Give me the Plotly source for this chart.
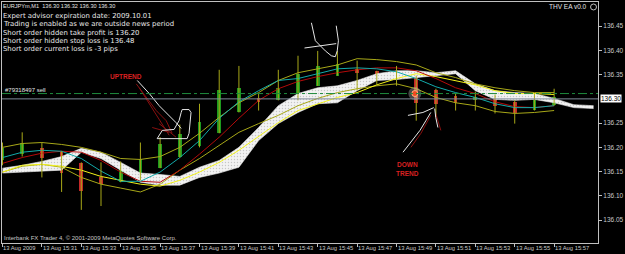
import plotly.graph_objects as go

# ---------------- data ----------------
bar_index = list(range(29))          # one bar per minute, 15:29 ... 15:57
bar_open  = [136.173,136.186,136.198,136.190,136.167,136.138,136.128,136.145,136.157,136.181,
             136.202,136.229,136.272,136.301,136.297,136.307,136.327,136.348,136.362,136.358,
             136.350,136.346,136.319,136.307,136.299,136.303,136.294,136.278,136.288]
bar_high  = [136.210,136.231,136.210,136.192,136.169,136.169,136.171,136.210,136.221,136.247,
             136.290,136.360,136.368,136.311,136.360,136.389,136.399,136.399,136.379,136.358,
             136.368,136.348,136.321,136.311,136.315,136.309,136.297,136.311,136.321]
bar_low   = [136.163,136.181,136.138,136.108,136.071,136.079,136.128,136.132,136.157,136.179,
             136.200,136.229,136.272,136.276,136.297,136.297,136.327,136.348,136.317,136.327,
             136.327,136.255,136.262,136.276,136.276,136.270,136.249,136.276,136.286]
bar_close = [136.198,136.210,136.179,136.147,136.110,136.124,136.157,136.175,136.206,136.227,
             136.253,136.319,136.323,136.294,136.323,136.352,136.368,136.373,136.354,136.340,
             136.342,136.292,136.290,136.292,136.303,136.286,136.270,136.297,136.304]

env_upper = [136.200,136.208,136.210,136.206,136.200,136.190,136.177,136.175,136.181,136.200,
             136.229,136.262,136.292,136.313,136.338,136.354,136.362,136.370,136.383,136.381,
             136.377,136.370,136.354,136.344,136.331,136.323,136.317,136.313,136.313]
env_lower = [136.149,136.161,136.165,136.159,136.138,136.124,136.116,136.108,136.124,136.153,
             136.177,136.204,136.231,136.249,136.266,136.286,136.301,136.313,136.321,136.327,
             136.331,136.321,136.303,136.292,136.286,136.274,136.270,136.272,136.276]
ma_cyan   = [136.179,136.190,136.194,136.192,136.177,136.151,136.130,136.130,136.149,136.179,
             136.214,136.260,136.294,136.317,136.338,136.342,136.352,136.362,136.364,136.362,
             136.356,136.342,136.325,136.313,136.303,136.290,136.282,136.282,136.286]
ma_red    = [136.167,136.179,136.188,136.192,136.190,136.173,136.149,136.130,136.128,136.153,
             136.186,136.221,136.260,136.297,136.321,136.336,136.346,136.354,136.360,136.364,
             136.364,136.358,136.342,136.323,136.311,136.294,136.284,136.282,136.286]
ma_yellow = [136.149,136.163,136.165,136.161,136.153,136.140,136.132,136.124,136.120,136.132,
             136.149,136.169,136.194,136.223,136.251,136.276,136.290,136.303,136.313,136.329,
             136.342,136.352,136.346,136.338,136.329,136.317,136.311,136.311,136.309]

band_index  = list(range(31))
band_top    = [136.157,136.163,136.171,136.181,136.198,136.190,136.169,136.147,136.144,136.140,
               136.159,136.173,136.200,136.241,136.286,136.311,136.323,136.327,136.338,136.352,
               136.358,136.358,136.354,136.358,136.331,136.317,136.313,136.311,136.301,136.288,136.286]
band_bottom = [136.147,136.149,136.151,136.153,136.190,136.177,136.153,136.128,136.122,136.122,
               136.138,136.147,136.159,136.214,136.249,136.272,136.290,136.292,136.317,136.338,
               136.340,136.344,136.348,136.352,136.317,136.299,136.297,136.299,136.292,136.282,136.280]

time_tick_index  = [0,2,4,6,8,10,12,14,16,18,20,22,24,26,28]
time_tick_labels = ["13 Aug 2009","13 Aug 15:31","13 Aug 15:33","13 Aug 15:35","13 Aug 15:37",
                    "13 Aug 15:39","13 Aug 15:41","13 Aug 15:43","13 Aug 15:45","13 Aug 15:47",
                    "13 Aug 15:49","13 Aug 15:51","13 Aug 15:53","13 Aug 15:55","13 Aug 15:57"]
price_ticks = [136.05,136.10,136.15,136.20,136.25,136.35,136.40,136.45]
price_tick_labels = ["136.05","136.10","136.15","136.20","136.25","136.35","136.40","136.45"]
bid_price = 136.30
order_price = 136.311
order_index = 20.93

# hand drawn objects (bar index, price)
up_line_x = [6.84,7.20,7.45,7.95,8.46,8.81,9.07]
up_line_y = [136.338,136.323,136.311,136.286,136.266,136.251,136.239]
up_shape_x = [7.85,8.11,8.71,8.96,9.07,9.12,9.47,9.57,9.47,9.37,7.85]
up_shape_y = [136.218,136.235,136.237,136.255,136.272,136.278,136.278,136.272,136.229,136.218,136.218]
up_red_x = [6.79,7.30,7.80,8.31,8.61,None,6.94,7.45,8.11,8.46,None,7.60,8.46,None,7.95,8.81]
up_red_y = [136.331,136.303,136.276,136.255,136.229,None,136.323,136.290,136.249,136.225,None,
            136.241,136.231,None,136.249,136.221]
top_scribble_x = [15.68,15.88,16.39,16.69,16.89,16.99,17.05,16.94,None,15.33,16.13,16.94]
top_scribble_y = [136.457,136.420,136.399,136.389,136.387,136.399,136.420,136.451,None,136.405,136.409,136.414]
down_line_x = [20.33,20.73,21.19,21.49,21.74,None,20.58,21.34,21.89,None,21.94,21.99,22.10]
down_line_y = [136.190,136.210,136.235,136.255,136.272,None,136.266,136.272,136.282,None,136.280,136.262,136.241]
down_red_x = [20.73,21.24,21.74,None,21.99,22.25]
down_red_y = [136.200,136.229,136.266,None,136.270,136.235]

info_lines = ["Expert advisor expiration date: 2009.10.01",
              "Trading is enabled as we are outside news period",
              "Short order hidden take profit is 136.20",
              "Short order hidden stop loss is 136.48",
              "Short order current loss is -3 pips"]

# ---------------- figure ----------------
OLIVE = '#a8a818'
FONT = 'Liberation Sans, Arial, sans-serif'
INFO_FONT = 'DejaVu Sans, Liberation Sans, sans-serif'
W, H = 625, 254
L_M, R_M, T_M, B_M = 2, 24, 1, 11

def px(x):
    return (x - L_M) / (W - L_M - R_M)

def py(y):
    return (H - B_M - y) / (H - T_M - B_M)

fig = go.Figure()

# cloud band
fig.add_trace(go.Scatter(x=band_index, y=band_bottom, mode='lines',
                         line=dict(color='#eeeeee', width=0.6), hoverinfo='skip'))
fig.add_trace(go.Scatter(x=band_index, y=band_top, mode='lines', fill='tonexty',
                         fillcolor='#dcdcdc',
                         fillpattern=dict(shape='.', bgcolor='#f2f2f2', fgcolor='#9a9a9a',
                                          size=3, solidity=0.18),
                         line=dict(color='#eeeeee', width=0.6), hoverinfo='skip'))

# horizontal lines
fig.add_hline(y=order_price, line=dict(color='#1e8a3c', width=1, dash='dashdot'))
fig.add_hline(y=bid_price, line=dict(color='#7f8a9a', width=1))

# indicator lines
fig.add_trace(go.Scatter(x=bar_index, y=env_upper, mode='lines', line=dict(color=OLIVE, width=1)))
fig.add_trace(go.Scatter(x=bar_index, y=env_lower, mode='lines', line=dict(color=OLIVE, width=1)))
fig.add_trace(go.Scatter(x=bar_index, y=ma_yellow, mode='lines', line=dict(color='#f2f218', width=1)))
fig.add_trace(go.Scatter(x=bar_index, y=ma_red, mode='lines', line=dict(color='#b40a0a', width=1)))
fig.add_trace(go.Scatter(x=bar_index, y=ma_cyan, mode='lines', line=dict(color='#12aaaa', width=1)))

# candles: wicks
wx, wy = [], []
for i, lo, hi in zip(bar_index, bar_low, bar_high):
    wx += [i, i, None]
    wy += [lo, hi, None]
fig.add_trace(go.Scatter(x=wx, y=wy, mode='lines', line=dict(color=OLIVE, width=1), hoverinfo='skip'))
# candles: bodies
body_h = [max(abs(c - o), 0.0015) for o, c in zip(bar_open, bar_close)]
body_b = [min(o, c) for o, c in zip(bar_open, bar_close)]
body_c = ['#1e9a1e' if c >= o else '#c42828' for o, c in zip(bar_open, bar_close)]
fig.add_trace(go.Bar(x=bar_index, y=body_h, base=body_b, width=0.19,
                     marker=dict(color=body_c, line=dict(width=0))))

# drawings
fig.add_trace(go.Scatter(x=up_red_x, y=up_red_y, mode='lines', line=dict(color='#8a1010', width=1)))
fig.add_trace(go.Scatter(x=down_red_x, y=down_red_y, mode='lines', line=dict(color='#8a1010', width=1)))
fig.add_trace(go.Scatter(x=up_line_x, y=up_line_y, mode='lines', line=dict(color='#e6e6e6', width=1)))
fig.add_trace(go.Scatter(x=up_shape_x, y=up_shape_y, mode='lines', line=dict(color='#e6e6e6', width=1)))
fig.add_trace(go.Scatter(x=top_scribble_x, y=top_scribble_y, mode='lines', line=dict(color='#e6e6e6', width=1)))
fig.add_trace(go.Scatter(x=down_line_x, y=down_line_y, mode='lines', line=dict(color='#e6e6e6', width=1)))

# order marker
fig.add_trace(go.Scatter(x=[order_index], y=[order_price], mode='markers',
                         marker=dict(size=13, color='rgba(200,200,200,0.35)', line=dict(width=0))))
fig.add_trace(go.Scatter(x=[order_index], y=[order_price], mode='markers',
                         marker=dict(size=6, color='#f04a20', line=dict(color='#ffb080', width=1))))

ann = []
def text(x, y, s, size, color='#e4e4e4', anchor='left', bold=False, family=FONT):
    if bold:
        s = '<b>' + s + '</b>'
    ann.append(dict(x=px(x), y=py(y), xref='paper', yref='paper', text=s, showarrow=False,
                    xanchor=anchor, yanchor='middle', font=dict(family=family, size=size, color=color),
                    borderpad=0))

text(2, 5.5, "EURJPYm,M1  136.30 136.32 136.30 136.30", 5.6)
for k, line in enumerate(info_lines):
    text(2, 15 + k * 8.4, line, 6.9, '#e8e8e8', family=INFO_FONT)
text(4, 89, "#79318497 sell", 6)
text(127, 76, "UPTREND", 6.5, '#d82020', 'center', True)
text(410, 164, "DOWN", 6.5, '#d82020', 'center', True)
text(410, 173, "TREND", 6.5, '#d82020', 'center', True)
text(591, 6, "THV EA v0.0", 6.5, '#e4e4e4', 'right')
text(3, 238, "Interbank FX Trader 4, \u00a9 2001-2009 MetaQuotes Software Corp.", 6, '#c8c8c8')
for i, lab in zip(time_tick_index, time_tick_labels):
    text(2.5 + 19.8 * i, 248.5, lab, 5.8, '#c8c8c8')
ann.append(dict(x=px(603), y=bid_price, xref='paper', yref='y', text="136.30", showarrow=False,
                xanchor='left', yanchor='middle', bgcolor='#ffffff', borderpad=0,
                font=dict(family=FONT, size=6.5, color='#000000')))

fig.add_shape(type='circle', xref='paper', yref='paper',
              x0=px(593.5), x1=px(599.5), y0=py(3), y1=py(9),
              line=dict(color='#c0c0c0', width=1))

fig.update_layout(
    width=W, height=H, margin=dict(l=L_M, r=R_M, t=T_M, b=B_M),
    paper_bgcolor='#000000', plot_bgcolor='#000000', showlegend=False, bargap=0,
    annotations=ann, hovermode=False,
    xaxis=dict(range=[-0.025, 30.227], tickvals=time_tick_index, showticklabels=False,
               ticks='outside', ticklen=3, tickcolor='#c0c0c0', showgrid=False, zeroline=False,
               showline=True, linecolor='#c0c0c0', linewidth=1, mirror=True),
    yaxis=dict(range=[136.0027, 136.4999], side='right', tickvals=price_ticks,
               ticktext=price_tick_labels, ticks='outside', ticklen=3, tickcolor='#c0c0c0',
               tickfont=dict(family=FONT, size=6.5, color='#c8c8c8'), showgrid=False,
               zeroline=False, showline=True, linecolor='#c0c0c0', linewidth=1, mirror=True),
)

fig.write_html("out.html")
